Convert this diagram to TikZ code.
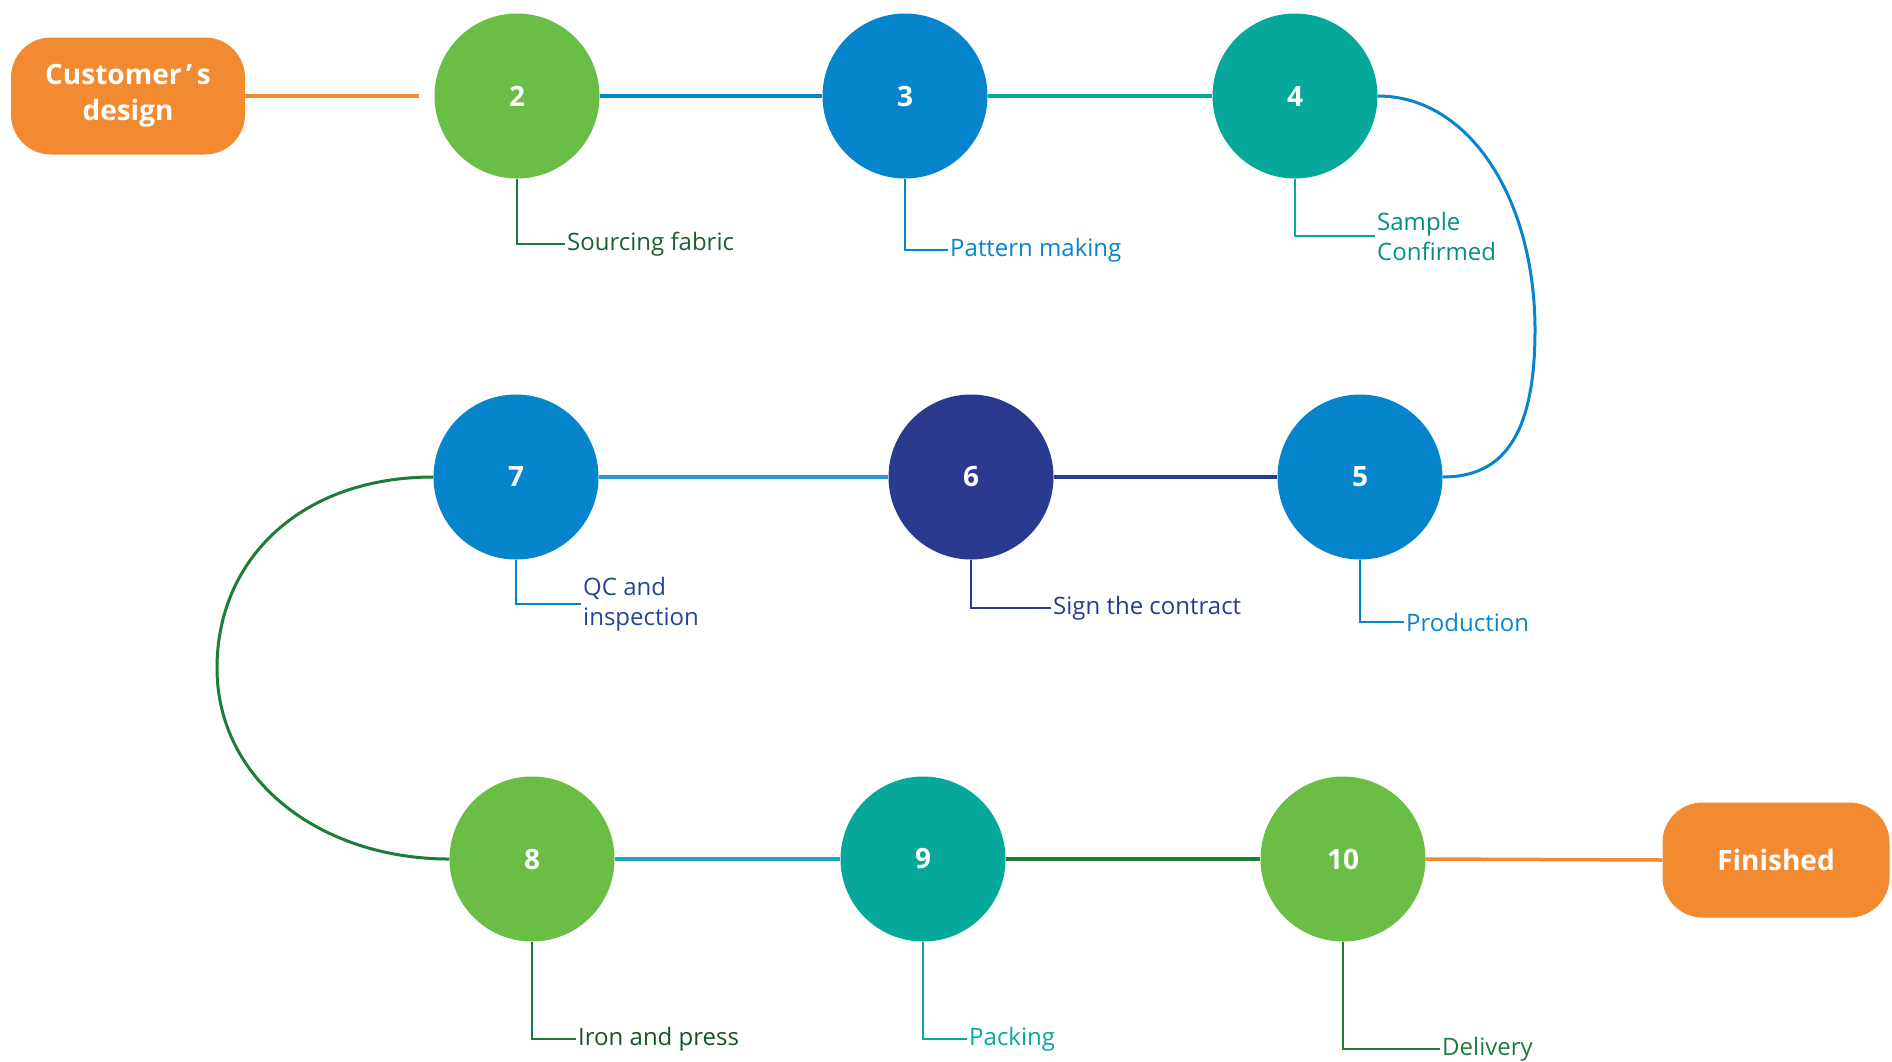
\documentclass[tikz,border=0pt]{standalone}
\usepackage{fontspec}
\setmainfont{Open Sans}
\definecolor{corange}{HTML}{F18A31}
\definecolor{cgreen}{HTML}{6ABD45}
\definecolor{cblue}{HTML}{0685CC}
\definecolor{cteal}{HTML}{05A89A}
\definecolor{cnavy}{HTML}{2A3A8F}
\definecolor{cdgreen}{HTML}{1D7B3B}
\definecolor{ccyan}{HTML}{22A6B8}
\begin{document}
\begin{tikzpicture}[x=1pt,y=-1pt,
  stepc/.style={circle,minimum size=165pt,inner sep=0pt,text=white,font=\fontsize{28}{30}\selectfont\bfseries},
  endbox/.style={rounded corners=40pt,fill=corange,text=white,inner sep=0pt,align=center,font=\fontsize{28}{36}\selectfont\bfseries},
  lbl/.style={anchor=west,inner sep=2pt,align=left,font=\fontsize{24}{30}\selectfont},
  conn/.style={line width=3.5pt},
  lead/.style={line width=2.8pt},
  curv/.style={line width=3pt}]
\useasboundingbox (0,0) rectangle (1892,1061);
% end boxes
\node[endbox,minimum width=234pt,minimum height=117pt] (cust) at (128,96) {Customer\,\char"27\,s\\design};
\node[endbox,minimum width=227pt,minimum height=115pt] (fin) at (1776,860) {Finished};
% circles
\node[stepc,fill=cgreen] (c2) at (517,96) {2};
\node[stepc,fill=cblue] (c3) at (905,96) {3};
\node[stepc,fill=cteal] (c4) at (1295,96) {4};
\node[stepc,fill=cblue] (c5) at (1360,477) {5};
\node[stepc,fill=cnavy] (c6) at (971,477) {6};
\node[stepc,fill=cblue] (c7) at (516,477) {7};
\node[stepc,fill=cgreen] (c8) at (532,859) {8};
\node[stepc,fill=cteal] (c9) at (923,859) {9};
\node[stepc,fill=cgreen] (c10) at (1343,859) {10};
% labels
\node[lbl,text=cdgreen!80!black] (l2) at (565,244) {Sourcing fabric};
\node[lbl,text=cblue] (l3) at (948,250) {Pattern making};
\node[lbl,text=cteal!85!black] (l4) at (1375,236) {Sample\\Confirmed};
\node[lbl,text=cblue] (l5) at (1404,622) {Production};
\node[lbl,text=cnavy] (l6) at (1051,608) {Sign the contract};
\node[lbl,text=cnavy!85!cblue] (l7) at (581,604) {QC and\\inspection};
\node[lbl,text=cdgreen!70!black] (l8) at (576,1039) {Iron and press};
\node[lbl,text=cteal] (l9) at (967,1039) {Packing};
\node[lbl,text=cdgreen] (l10) at (1440,1049) {Delivery};
% main connectors
\draw[conn,corange,shorten >=15pt] (cust.east) -- (c2.west);
\draw[conn,cblue] (c2.east) -- (c3.west);
\draw[conn,cteal] (c3.east) -- (c4.west);
\draw[curv,cblue] (c4.east) .. controls (1470,96) and (1535,200) .. (1535,330) .. controls (1535,440) and (1500,477) .. (c5.east);
\draw[conn,cnavy] (c5.west) -- (c6.east);
\draw[conn,cblue!85!white] (c6.west) -- (c7.east);
\draw[curv,cdgreen] (c7.west) .. controls (300,477) and (217,560) .. (217,668) .. controls (217,780) and (320,859) .. (c8.west);
\draw[conn,ccyan] (c8.east) -- (c9.west);
\draw[conn,cdgreen] (c9.east) -- (c10.west);
\draw[conn,corange] (c10.east) -- (fin.west);
% leaders
\draw[lead,cdgreen] (c2.south) |- (l2.west);
\draw[lead,cblue] (c3.south) |- (l3.west);
\draw[lead,cteal] (c4.south) |- (l4.west);
\draw[lead,cblue] (c5.south) |- (l5.west);
\draw[lead,cnavy] (c6.south) |- (l6.west);
\draw[lead,cblue] (c7.south) |- (l7.west);
\draw[lead,cdgreen] (c8.south) |- (l8.west);
\draw[lead,cteal] (c9.south) |- (l9.west);
\draw[lead,cdgreen] (c10.south) |- (l10.west);
\end{tikzpicture}
\end{document}
